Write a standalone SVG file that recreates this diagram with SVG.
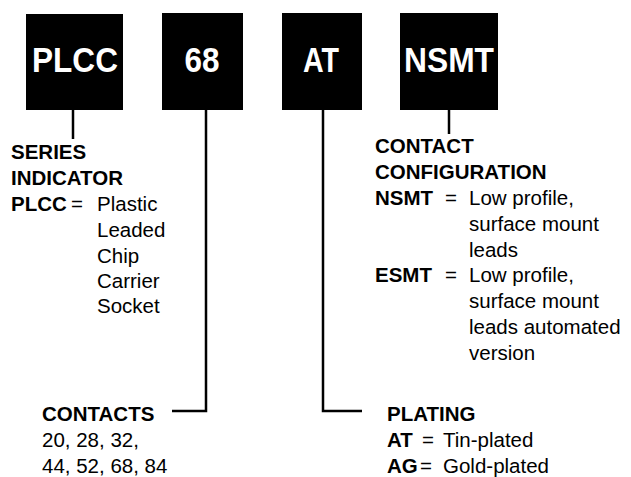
<svg xmlns="http://www.w3.org/2000/svg" width="631" height="477" viewBox="0 0 631 477">
<style>
.box{fill:#000}
.bt{font-family:"Liberation Sans",Arial,sans-serif;font-weight:bold;font-size:35px;fill:#fff;text-anchor:middle}
.t{font-family:"Liberation Sans",Arial,sans-serif;font-size:20.5px;fill:#000}
.b{font-weight:bold}
.ln{fill:none;stroke:#000;stroke-width:2.5}
</style>
<rect width="631" height="477" fill="#fff"/>
<g id="node-plcc"><rect class="box" x="26" y="14" width="97" height="96"/><text class="bt" x="75" y="72" textLength="86" lengthAdjust="spacingAndGlyphs">PLCC</text></g>
<g id="node-68"><rect class="box" x="162" y="13" width="81" height="97"/><text class="bt" x="202" y="72" textLength="35" lengthAdjust="spacingAndGlyphs">68</text></g>
<g id="node-at"><rect class="box" x="282" y="13" width="80" height="97"/><text class="bt" x="321" y="72" textLength="36" lengthAdjust="spacingAndGlyphs">AT</text></g>
<g id="node-nsmt"><rect class="box" x="400" y="13" width="98" height="97"/><text class="bt" x="449" y="72" textLength="90" lengthAdjust="spacingAndGlyphs">NSMT</text></g>
<g id="connectors">
<path class="ln" d="M73,110 V139"/>
<path class="ln" d="M206,110 V411 H172"/>
<path class="ln" d="M323,110 V411 H362"/>
<path class="ln" d="M449,110 V134"/>
</g>
<g id="series">
<text class="t b" x="11" y="159">SERIES</text>
<text class="t b" x="11" y="185">INDICATOR</text>
<text class="t b" x="11" y="211">PLCC</text><text class="t" x="71" y="211">=</text><text class="t" x="97" y="211">Plastic</text>
<text class="t" x="97" y="237">Leaded</text>
<text class="t" x="97" y="263">Chip</text>
<text class="t" x="97" y="288">Carrier</text>
<text class="t" x="97" y="313">Socket</text>
</g>
<g id="config">
<text class="t b" x="375" y="153">CONTACT</text>
<text class="t b" x="375" y="179">CONFIGURATION</text>
<text class="t b" x="375" y="205">NSMT</text><text class="t" x="445" y="205">=</text><text class="t" x="469" y="205">Low profile,</text>
<text class="t" x="469" y="231">surface mount</text>
<text class="t" x="469" y="257">leads</text>
<text class="t b" x="375" y="282">ESMT</text><text class="t" x="445" y="282">=</text><text class="t" x="469" y="282">Low profile,</text>
<text class="t" x="469" y="308">surface mount</text>
<text class="t" x="469" y="334">leads automated</text>
<text class="t" x="469" y="360">version</text>
</g>
<g id="contacts">
<text class="t b" x="42" y="421">CONTACTS</text>
<text class="t" x="42" y="447">20, 28, 32,</text>
<text class="t" x="42" y="473">44, 52, 68, 84</text>
</g>
<g id="plating">
<text class="t b" x="387" y="421">PLATING</text>
<text class="t b" x="387" y="447">AT</text><text class="t" x="422" y="447">=</text><text class="t" x="443" y="447">Tin-plated</text>
<text class="t b" x="387" y="473">AG</text><text class="t" x="420" y="473">=</text><text class="t" x="443" y="473">Gold-plated</text>
</g>
</svg>
